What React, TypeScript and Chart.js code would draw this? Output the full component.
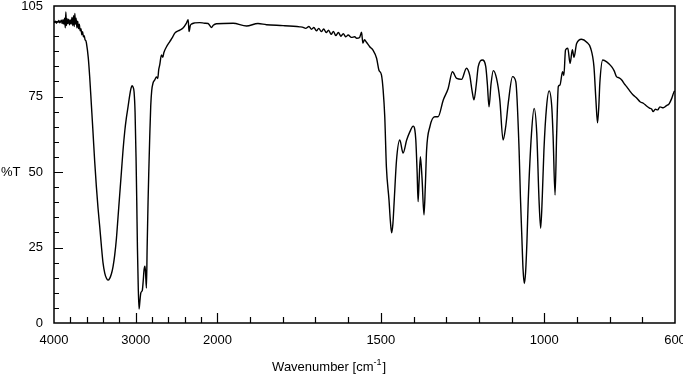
import React, { useEffect, useRef } from "react";
import { Chart, registerables } from "chart.js";

Chart.register(...registerables);

// ---- data ----
const wavenumber = [
  4000, 3990, 3980, 3970, 3960, 3950, 3940, 3930, 3920, 3910, 3900, 3890, 3880, 3870, 3862, 3855, 3848, 3840,
  3830, 3820, 3810, 3800, 3790, 3780, 3770, 3760, 3752, 3745, 3738, 3730, 3720, 3710, 3700, 3690, 3680, 3670,
  3660, 3650, 3640, 3630, 3620, 3610, 3603, 3581, 3563, 3542, 3522, 3502, 3481, 3461, 3440, 3420, 3400, 3379,
  3358, 3339, 3318, 3297, 3278, 3257, 3236, 3216, 3196, 3175, 3155, 3134, 3114, 3094, 3073, 3057, 3045, 3033,
  3020, 3008, 2996, 2987, 2979, 2969, 2959, 2948, 2938, 2925, 2918, 2908, 2898, 2887, 2880, 2869, 2860, 2849,
  2840, 2828, 2816, 2804, 2788, 2767, 2746, 2730, 2718, 2706, 2685, 2668, 2656, 2623, 2583, 2552, 2522, 2460,
  2424, 2379, 2358, 2347, 2332, 2318, 2277, 2216, 2155, 2114, 2073, 2051, 2012, 1952, 1911, 1876, 1850, 1799,
  1748, 1740, 1730, 1720, 1712, 1705, 1697, 1690, 1682, 1675, 1667, 1660, 1652, 1645, 1638, 1630, 1622, 1615,
  1607, 1600, 1590, 1580, 1574, 1565, 1559, 1555, 1550, 1544, 1534, 1524, 1513, 1506, 1498, 1493, 1488, 1483,
  1475, 1471, 1467, 1463, 1459, 1452, 1442, 1432, 1421, 1411, 1401, 1396, 1393, 1389, 1386, 1383, 1379, 1374,
  1368, 1364, 1360, 1350, 1335, 1325, 1309, 1294, 1281, 1268, 1253, 1238, 1228, 1221, 1215, 1208, 1202, 1189,
  1179, 1174, 1169, 1163, 1156, 1146, 1136, 1126, 1118, 1110, 1097, 1087, 1077, 1073, 1069, 1065, 1061, 1057,
  1053, 1049, 1039, 1031, 1023, 1016, 1011, 1006, 1001, 993, 985, 977, 973, 967, 962, 957, 952, 944, 940, 935,
  928, 921, 914, 909, 901, 886, 870, 858, 848, 842, 837, 833, 830, 821, 809, 794, 786, 779, 771, 763, 755, 748,
  738, 728, 718, 707, 697, 687, 678, 671, 667, 660, 653, 646, 636, 626, 618, 610, 603, 600,
];

const transmittance = [
  99.8, 99.5, 100.0, 99.3, 99.9, 99.6, 100.2, 99.4, 99.8, 100.3, 99.2, 100.5, 99.0, 101.0, 97.8, 103.0, 98.5, 100.8,
  99.2, 100.6, 98.8, 100.4, 99.0, 101.2, 98.5, 101.8, 98.2, 102.5, 99.0, 101.0, 97.8, 100.0, 97.5, 99.0, 96.8, 97.5,
  95.5, 96.5, 94.8, 95.2, 93.8, 93.5, 92.7, 88, 81.5, 72, 62.9, 53.5, 45, 38, 31.8, 25.5, 19.9, 16.5,
  14.8, 14.2, 14.8, 16.3, 18.6, 22.5, 28, 35.2, 42.5, 50, 57.3, 63.5, 68, 71.6, 75.5, 77.8, 78.6, 78.2,
  76.5, 70, 55, 40, 25, 12, 4.6, 7.5, 9.9, 10.5, 11, 14, 17.6, 18.8, 17, 11.6, 25, 40,
  50, 62, 72, 77, 79.5, 80.5, 81.5, 81, 84, 85.5, 88.8, 88, 89.5, 91.5, 93.2, 94.5, 96, 97,
  97.6, 99.3, 100.5, 96.5, 98.5, 99, 99.4, 99.5, 99.3, 99.2, 97.9, 98.6, 99.1, 99.3, 98.4, 99.2, 98.8, 98.5,
  98.1, 98.0, 97.6, 98.2, 97.3, 97.9, 96.8, 97.6, 96.5, 97.4, 96.2, 97.0, 95.6, 96.6, 95.2, 96.2, 95.0, 95.8,
  94.8, 95.4, 94.6, 94.8, 94.3, 94.6, 96.3, 92.7, 93.8, 93.0, 91.5, 90.4, 87.7, 83.8, 82.1, 77.2, 68.3, 51.7,
  40.7, 34, 29.9, 33, 40.7, 54, 60.6, 56.3, 60.6, 63.4, 65.2, 64, 60.6, 50, 40.2, 47, 55.1, 48,
  35.8, 45, 57.3, 65, 68.3, 68.3, 73.9, 77.7, 83.2, 81, 80.7, 84.4, 82, 77, 73.9, 79, 84.9, 87.1,
  84.9, 79, 71.6, 79, 83.6, 81, 73.9, 60.6, 65, 73, 81.6, 79.9, 57.3, 42, 29.8, 18, 13.1, 17,
  27, 40.7, 62.9, 71.1, 62.9, 40.7, 31.4, 42, 57.3, 71.6, 76.9, 71.6, 62, 42.4, 62.9, 78.3, 78.8, 83.2, 82, 90.4,
  91, 86, 90.5, 88, 92.6, 94, 93, 91, 84.9, 73.9, 66.3, 72, 79.4, 87.1, 86.5, 84.9, 83.5, 81.6, 81.2, 80.5, 79.2, 78.3,
  76.8, 75.5, 74.6, 73.3, 72.8, 71.9, 71.2, 70.8, 70, 70.8, 70.6, 71.6, 71.3, 72, 72.6, 74.4, 76.6, 76.8,
];

const xLabelTicks = [4000, 3000, 2000, 1500, 1000, 600];
const xMajorTicks = [3000, 2000, 1500, 1000];
const xMinorTicks = [3800, 3600, 3400, 3200, 2800, 2600, 2400, 2200, 1900, 1800, 1700, 1600, 1400, 1300, 1200, 1100, 900, 800, 700];
const yLabelTicks = [0, 25, 50, 75, 105];
const yMajorTicks = [25, 50, 75];
const yMinorTicks = [5, 10, 15, 20, 30, 35, 40, 45, 55, 60, 65, 70, 80, 85, 90, 95, 100];

const xTitle = "Wavenumber [cm";
const xTitleSup = "-1";
const xTitleEnd = "]";
const yTitle = "%T";

// x axis: scale change at 2000 cm-1 (4000-2000 region compressed 4x)
const BREAK = 2000;
const toPos = (w: number) => (w >= BREAK ? (4000 - w) / 4 : 500 + (BREAK - w));
const fromPos = (p: number) => (p <= 500 ? 4000 - 4 * p : BREAK - (p - 500));

const FONT = '"Liberation Sans", Arial, Helvetica, sans-serif';

const framePlugin = {
  id: "irFrame",
  afterDraw(chart: any) {
    const { ctx, chartArea: a, scales } = chart;
    const x = scales.x;
    const y = scales.y;
    ctx.save();
    ctx.strokeStyle = "#000";
    ctx.lineWidth = 1.5;
    ctx.strokeRect(a.left, a.top, a.right - a.left, a.bottom - a.top);
    ctx.lineWidth = 1.2;
    ctx.beginPath();
    for (const w of xMinorTicks) {
      const px = Math.round(x.getPixelForValue(toPos(w))) + 0.5;
      ctx.moveTo(px, a.bottom);
      ctx.lineTo(px, a.bottom - 6);
    }
    for (const w of xMajorTicks) {
      const px = Math.round(x.getPixelForValue(toPos(w))) + 0.5;
      ctx.moveTo(px, a.bottom);
      ctx.lineTo(px, a.bottom - 10);
    }
    for (const v of yMinorTicks) {
      const py = Math.round(y.getPixelForValue(v)) + 0.5;
      ctx.moveTo(a.left, py);
      ctx.lineTo(a.left + 5, py);
    }
    for (const v of yMajorTicks) {
      const py = Math.round(y.getPixelForValue(v)) + 0.5;
      ctx.moveTo(a.left, py);
      ctx.lineTo(a.left + 9, py);
    }
    ctx.stroke();

    ctx.fillStyle = "#000";
    ctx.font = `13px ${FONT}`;
    ctx.textBaseline = "middle";
    ctx.textAlign = "left";
    ctx.fillText(yTitle, 1, y.getPixelForValue(50));

    const wMain = ctx.measureText(xTitle).width;
    ctx.font = `9px ${FONT}`;
    const wSup = ctx.measureText(xTitleSup).width;
    ctx.font = `13px ${FONT}`;
    const wEnd = ctx.measureText(xTitleEnd).width;
    const total = wMain + wSup + 1 + wEnd;
    const cx = a.left + (a.right - a.left) * 0.443;
    const ty = 367;
    let sx = cx - total / 2;
    ctx.fillText(xTitle, sx, ty);
    sx += wMain;
    ctx.font = `9px ${FONT}`;
    ctx.fillText(xTitleSup, sx, ty - 4);
    sx += wSup + 1;
    ctx.font = `13px ${FONT}`;
    ctx.fillText(xTitleEnd, sx, ty);
    ctx.restore();
  },
};

export default function App() {
  const ref = useRef<HTMLCanvasElement | null>(null);

  useEffect(() => {
    if (!ref.current) return;
    Chart.defaults.font.family = FONT;
    Chart.defaults.color = "#000";
    const points = wavenumber.map((w, i) => ({ x: toPos(w), y: transmittance[i] }));
    const chart = new Chart(ref.current, {
      type: "line",
      data: {
        datasets: [
          {
            data: points,
            borderColor: "#000",
            borderWidth: 1.4,
            pointRadius: 0,
            fill: false,
            cubicInterpolationMode: "monotone",
          },
        ],
      },
      options: {
        responsive: false,
        animation: false,
        layout: { padding: { top: 6, right: 8, left: 0, bottom: 0 } },
        plugins: { legend: { display: false }, tooltip: { enabled: false } },
        scales: {
          x: {
            type: "linear",
            min: 0,
            max: 1900,
            grid: { display: false, drawTicks: false },
            border: { display: false },
            afterBuildTicks: (s: any) => {
              s.ticks = xLabelTicks.map((w) => ({ value: toPos(w) }));
            },
            afterFit: (s: any) => {
              s.height = 53;
              s.paddingLeft = 0;
              s.paddingRight = 0;
            },
            ticks: {
              autoSkip: false,
              maxRotation: 0,
              minRotation: 0,
              padding: 10,
              color: "#000",
              font: { size: 13, family: FONT },
              callback: (v: any) => String(Math.round(fromPos(Number(v)))),
            },
          },
          y: {
            min: 0,
            max: 105,
            grid: { display: false, drawTicks: false },
            border: { display: false },
            afterBuildTicks: (s: any) => {
              s.ticks = yLabelTicks.map((v) => ({ value: v }));
            },
            afterFit: (s: any) => {
              s.width = 54;
              s.paddingTop = 0;
              s.paddingBottom = 0;
            },
            ticks: {
              autoSkip: false,
              padding: 11,
              color: "#000",
              font: { size: 13, family: FONT },
              callback: (v: any) => String(v),
            },
          },
        },
      },
      plugins: [framePlugin],
    } as any);
    return () => chart.destroy();
  }, []);

  return (
    <div style={{ position: "absolute", left: 0, top: 0, width: 683, height: 376, background: "#fff" }}>
      <canvas ref={ref} width={683} height={376} style={{ display: "block" }} />
    </div>
  );
}
